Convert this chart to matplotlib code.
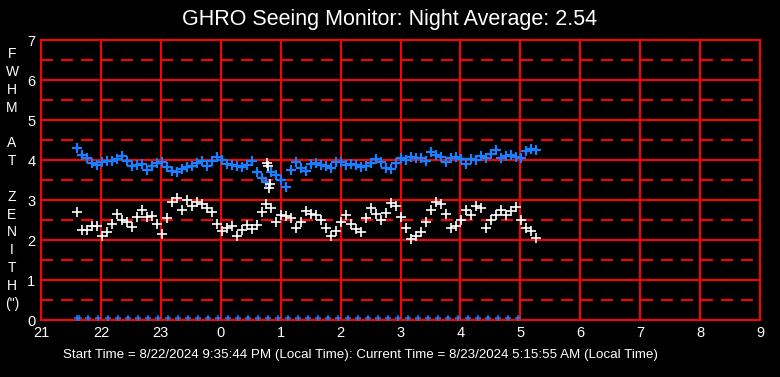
import matplotlib.pyplot as plt
import numpy as np

# Seeing data (FWHM, arcsec), one reading about every 5 minutes
t_start = 21 + 35/60 + 44/3600   # 9:35:44 PM
t_end = 29 + 15/60 + 55/3600     # 5:15:55 AM (next day)

fwhm_blue = [4.30, 4.12, 4.05, 3.92, 3.88, 3.95, 3.97, 3.98, 4.02, 4.10,
             3.98, 3.85, 3.88, 3.90, 3.75, 3.85, 3.92, 3.96, 3.82, 3.72,
             3.70, 3.78, 3.82, 3.85, 3.92, 3.98, 3.85, 3.98, 4.08, 4.00,
             3.90, 3.88, 3.86, 3.83, 3.88, 3.98, 3.70, 3.55, 3.45, 3.70,
             3.62, 3.50, 3.33, 3.75, 3.95, 3.80, 3.72, 3.90, 3.92, 3.88,
             3.85, 3.80, 3.95, 3.96, 3.88, 3.90, 3.88, 3.82, 3.85, 3.92,
             4.02, 3.96, 3.80, 3.78, 3.92, 4.05, 4.00, 4.08, 4.05, 4.06,
             3.98, 4.20, 4.12, 4.08, 3.96, 4.06, 4.08, 4.02, 3.90, 4.03,
             4.00, 4.10, 4.05, 4.15, 4.25, 4.05, 4.10, 4.12, 4.08, 4.05,
             4.22, 4.27, 4.25]

fwhm_white = [2.70, 2.25, 2.25, 2.35, 2.35, 2.10, 2.20, 2.40, 2.65, 2.50,
              2.45, 2.33, 2.58, 2.75, 2.58, 2.60, 2.40, 2.15, 2.55, 2.95,
              3.05, 2.75, 3.00, 2.85, 2.95, 2.90, 2.80, 2.70, 2.40, 2.22,
              2.30, 2.35, 2.10, 2.25, 2.37, 2.28, 2.37, 2.70, 2.90, 2.80,
              2.45, 2.62, 2.60, 2.55, 2.30, 2.45, 2.72, 2.65, 2.62, 2.50,
              2.30, 2.10, 2.22, 2.45, 2.62, 2.40, 2.28, 2.20, 2.54, 2.80,
              2.65, 2.50, 2.68, 2.92, 2.85, 2.58, 2.30, 2.02, 2.10, 2.20,
              2.45, 2.75, 2.95, 2.90, 2.65, 2.30, 2.35, 2.50, 2.75, 2.62,
              2.85, 2.80, 2.30, 2.50, 2.62, 2.75, 2.62, 2.72, 2.83, 2.50,
              2.30, 2.22, 2.05]

# a few stray white readings near 0:47
white_extra_t = [24.77, 24.79, 24.81, 24.83]
white_extra_v = [3.93, 3.85, 3.30, 3.40]

# 10-minute status markers along the bottom
base_first = [21.60, 21.63]
base_step_t = np.arange(21.789, 29.10, 1/6)

times = np.linspace(t_start, t_end, len(fwhm_blue))

hour_ticks = np.arange(21, 34)
hour_labels = ['21', '22', '23', '0', '1', '2', '3', '4', '5', '6', '7', '8', '9']

blue = '#1a7fff'
red = '#ff0000'

fig = plt.figure(figsize=(7.8, 3.77), dpi=100, facecolor='black')
ax = fig.add_axes([41/780, 1 - 320/377, 719/780, 280/377], facecolor='black')

# grid: solid at integers, dashed at half units
for y in range(1, 7):
    ax.axhline(y, color=red, lw=1.5, zorder=1)
for y in np.arange(0.5, 7, 1.0):
    ax.axhline(y, color=red, lw=1.5, dashes=(5.8, 3.8), zorder=1)
for h in hour_ticks[1:-1]:
    ax.axvline(h, color=red, lw=1.5, zorder=1)

ax.plot(times, fwhm_blue, '+', color=blue, ms=7, mew=1.6, zorder=3)
ax.plot(times, fwhm_white, '+', color='white', ms=7, mew=1.2, zorder=4)
ax.plot(white_extra_t, white_extra_v, '+', color='white', ms=7, mew=1.2, zorder=4)
base_t = np.concatenate([base_first, base_step_t])
ax.plot(base_t, np.full(len(base_t), 0.05), '+', color=blue, ms=4.5, mew=1.1, zorder=3)

ax.set_xlim(21, 33)
ax.set_ylim(0, 7)
ax.set_xticks(hour_ticks)
ax.set_xticklabels(hour_labels)
ax.set_yticks(range(8))
ax.tick_params(length=0, colors='white', labelsize=10.5, pad=4)
for lab in ax.get_xticklabels() + ax.get_yticklabels():
    lab.set_fontfamily('Liberation Sans')
for s in ax.spines.values():
    s.set_color(red)
    s.set_linewidth(1.5)

fig.text(0.5, 1 - 20/377, 'GHRO Seeing Monitor: Night Average: 2.54', color='white',
         ha='center', va='center', fontsize=15.5, family='Liberation Sans')
fig.text(12/780, 1 - 179/377, 'F\nW\nH\nM\n\nA\nT\n\nZ\nE\nN\nI\nT\nH\n(")',
         color='white', ha='center', va='center', fontsize=10, linespacing=1.345,
         family='Liberation Sans')
fig.text(63/780, 1 - 355/377,
         'Start Time = 8/22/2024 9:35:44 PM (Local Time): Current Time = 8/23/2024 5:15:55 AM (Local Time)',
         color='white', ha='left', va='center', fontsize=9.6,
         family=['Liberation Sans Narrow', 'Liberation Sans'])

fig.savefig('out.png', dpi=100, facecolor='black')
